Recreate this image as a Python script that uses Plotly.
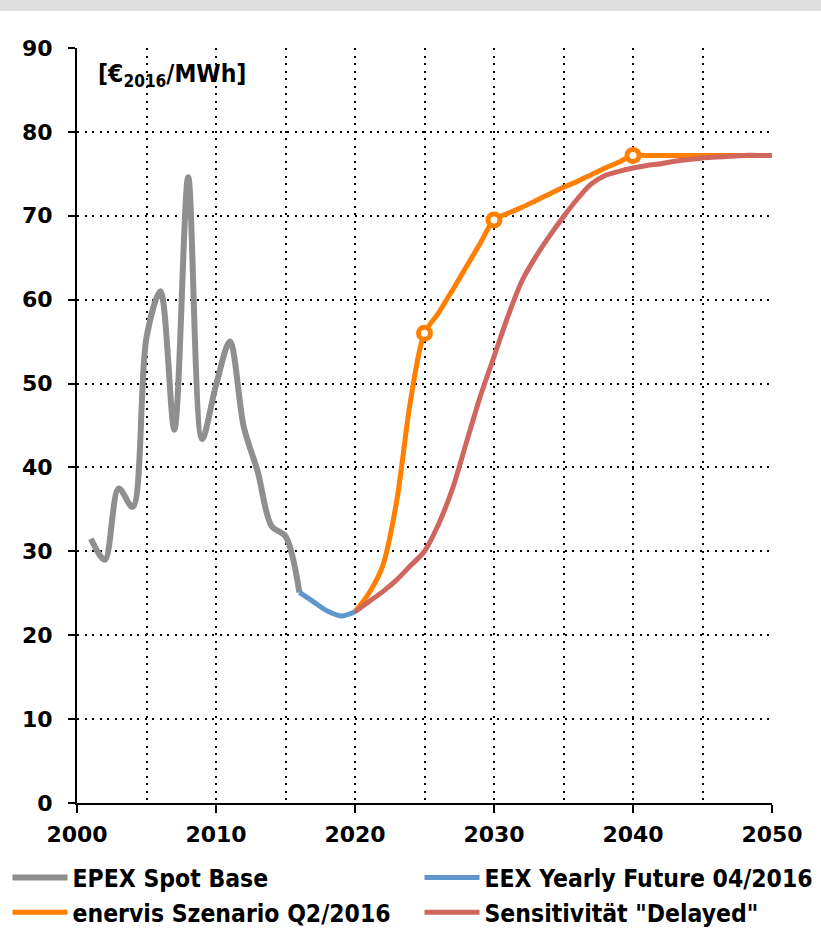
import plotly.graph_objects as go

# ---------------- data ----------------
epex_years = list(range(2001, 2017))
epex_values = [31.5, 29.0, 37.5, 35.3, 55.5, 61.0, 44.5, 74.6, 43.4, 49.8, 55.0, 44.8, 39.5, 33.0, 31.8, 25.1]

eex_years = [2016, 2017, 2018, 2019, 2020]
eex_values = [25.1, 24.0, 22.9, 22.3, 22.8]

enervis_years = list(range(2020, 2051))
enervis_values = [22.8, 25.0, 28.3, 36.0, 48.0, 56.0, 58.4, 61.1, 63.9, 66.7,
                  69.5, 70.3, 71.0, 71.8, 72.6, 73.4, 74.1, 74.9, 75.7, 76.4,
                  77.2, 77.2, 77.2, 77.2, 77.2, 77.2, 77.2, 77.2, 77.2, 77.2, 77.2]
enervis_marker_years = [2025, 2030, 2040]

delayed_years = list(range(2020, 2051))
delayed_values = [22.8, 24.0, 25.2, 26.6, 28.3, 30.0, 33.2, 37.4, 42.9, 48.4,
                  53.2, 58.0, 62.2, 65.1, 67.6, 69.9, 72.0, 73.8, 74.8, 75.3,
                  75.7, 76.0, 76.2, 76.5, 76.7, 76.9, 77.0, 77.1, 77.2, 77.2, 77.2]

names = ["EPEX Spot Base", "EEX Yearly Future 04/2016",
         "enervis Szenario Q2/2016", 'Sensitivität "Delayed"']
colors = ["#8f8f8f", "#5f97cc", "#ff7f00", "#cf675f"]

x_ticks = [2000, 2010, 2020, 2030, 2040, 2050]
y_ticks = [0, 10, 20, 30, 40, 50, 60, 70, 80, 90]

FONT_C = "DejaVu Sans Condensed, DejaVu Sans, sans-serif"
FONT = "DejaVu Sans, sans-serif"
DOT = "2px,5.5px"

fig = go.Figure()
fig.add_trace(go.Scatter(x=epex_years, y=epex_values, name=names[0], mode="lines",
                         legend="legend",
                         line=dict(color=colors[0], width=6, shape="spline", smoothing=0.9)))
fig.add_trace(go.Scatter(x=eex_years, y=eex_values, name=names[1], mode="lines",
                         legend="legend2",
                         line=dict(color=colors[1], width=5, shape="spline", smoothing=0.9)))
fig.add_trace(go.Scatter(x=enervis_years, y=enervis_values, name=names[2], mode="lines",
                         legend="legend",
                         line=dict(color=colors[2], width=5, shape="spline", smoothing=0.9)))
fig.add_trace(go.Scatter(x=delayed_years, y=delayed_values, name=names[3], mode="lines",
                         legend="legend2",
                         line=dict(color=colors[3], width=5, shape="spline", smoothing=0.9)))
mk_y = [enervis_values[enervis_years.index(yv)] for yv in enervis_marker_years]
fig.add_trace(go.Scatter(x=enervis_marker_years, y=mk_y, mode="markers", showlegend=False,
                         marker=dict(symbol="circle", size=12, color="white",
                                     line=dict(color=colors[2], width=5))))

legend_common = dict(orientation="v", xanchor="left", y=-0.0689, yanchor="top",
                     itemwidth=55, tracegroupgap=0,
                     font=dict(family=FONT_C, size=24.5, color="black", weight="bold"),
                     traceorder="normal", bgcolor="rgba(0,0,0,0)")

fig.update_layout(
    width=821, height=931, autosize=False,
    margin=dict(l=77, r=49, t=48, b=128, autoexpand=False),
    paper_bgcolor="white", plot_bgcolor="white",
    font=dict(family=FONT_C, size=23, color="black"),
    showlegend=True,
    legend=dict(x=-0.100, **legend_common),
    legend2=dict(x=0.4928, **legend_common),
)

fig.update_xaxes(range=[2000, 2050], tickvals=x_ticks, ticktext=[str(v) for v in x_ticks],
                 showline=True, linecolor="black", linewidth=2,
                 ticks="outside", ticklen=8, tickwidth=2, tickcolor="black",
                 ticklabelstandoff=3,
                 tickfont=dict(family=FONT, size=22, color="black", weight="bold"),
                 showgrid=True, gridcolor="black", gridwidth=2, griddash=DOT,
                 minor=dict(dtick=5, tick0=2000, showgrid=True, gridcolor="black",
                            gridwidth=2, griddash=DOT, ticks=""),
                 zeroline=False)
fig.update_yaxes(range=[0, 90], tickvals=y_ticks, ticktext=[str(v) for v in y_ticks],
                 showline=True, linecolor="black", linewidth=2,
                 ticks="outside", ticklen=7, tickwidth=2, tickcolor="black",
                 ticklabelstandoff=11,
                 tickfont=dict(family=FONT, size=22, color="black", weight="bold"),
                 showgrid=True, gridcolor="black", gridwidth=2, griddash=DOT,
                 zeroline=False)

# unit label
fig.add_annotation(text="<b>[€<sub>2016</sub>/MWh]</b>", xref="paper", yref="paper",
                   x=0.027, y=0.964, xanchor="left", yanchor="middle", showarrow=False,
                   font=dict(family=FONT_C, size=24.5, color="black"))

# grey title strip at top (cut-off header)
fig.add_shape(type="rect", xref="paper", yref="paper",
              x0=-0.12, x1=1.08, y0=(803 - 11) / 755, y1=1.08,
              fillcolor="#dfdfdf", line=dict(width=0), layer="above")

fig.write_html("out.html")
